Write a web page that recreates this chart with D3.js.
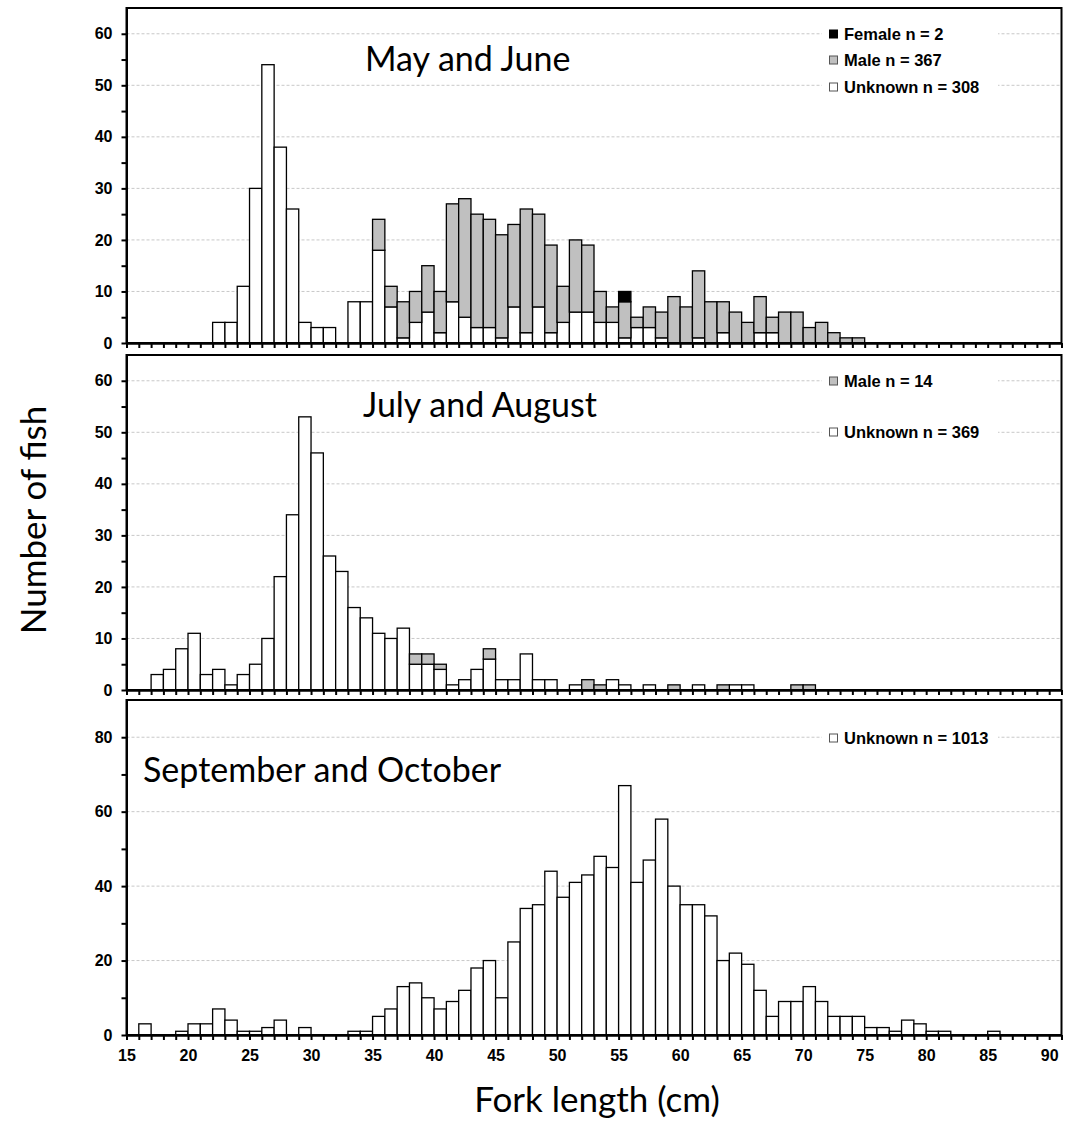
<!DOCTYPE html>
<html>
<head>
<meta charset="utf-8">
<script src="https://cdnjs.cloudflare.com/ajax/libs/d3/7.8.5/d3.min.js"></script>
<style>
body{margin:0;background:#fff;}
.tick text{font-family:"Liberation Sans",Arial,sans-serif;font-weight:bold;font-size:16px;fill:#000;}
.title{font-family:Lato,"Open Sans",sans-serif;font-size:34px;fill:#000;}
.legend text{font-family:"Liberation Sans",Arial,sans-serif;font-weight:bold;font-size:16.5px;fill:#000;}
.axis-title{font-family:Lato,"Open Sans",sans-serif;font-size:35px;fill:#000;}
</style>
</head>
<body>
<svg width="1071" height="1130"></svg>
<script>
// fork length classes, 1 cm each, 15 .. 90
var lengths = d3.range(15, 91);

// May and June
var mayJuneUnknown = [
  0,0,0,0,0,0,0,4,4,11,        // 15-24
  30,54,38,26,4,3,3,0,8,8,     // 25-34
  18,7,1,4,6,2,8,5,3,3,        // 35-44
  1,7,2,7,2,4,6,6,4,4,         // 45-54
  1,3,3,1,0,0,1,0,2,0,         // 55-64
  0,2,2,0,0,0,0,0,0,0,         // 65-74
  0,0,0,0,0,0,0,0,0,0,         // 75-84
  0,0,0,0,0,0                  // 85-90
];
var mayJuneMale = [
  0,0,0,0,0,0,0,0,0,0,
  0,0,0,0,0,0,0,0,0,0,
  6,4,7,6,9,8,19,23,22,21,
  20,16,24,18,17,7,14,13,6,3,
  7,2,4,5,9,7,13,8,6,6,
  4,7,3,6,6,3,4,2,1,1,
  0,0,0,0,0,0,0,0,0,0,
  0,0,0,0,0,0
];
var mayJuneFemale = [
  0,0,0,0,0,0,0,0,0,0,
  0,0,0,0,0,0,0,0,0,0,
  0,0,0,0,0,0,0,0,0,0,
  0,0,0,0,0,0,0,0,0,0,
  2,0,0,0,0,0,0,0,0,0,
  0,0,0,0,0,0,0,0,0,0,
  0,0,0,0,0,0,0,0,0,0,
  0,0,0,0,0,0
];

// July and August
var julAugUnknown = [
  0,0,3,4,8,11,3,4,1,3,
  5,10,22,34,53,46,26,23,16,14,
  11,10,12,5,5,4,1,2,4,6,
  2,2,7,2,2,0,1,0,0,2,
  1,0,1,0,0,0,1,0,0,1,
  1,0,0,0,0,0,0,0,0,0,
  0,0,0,0,0,0,0,0,0,0,
  0,0,0,0,0,0
];
var julAugMale = [
  0,0,0,0,0,0,0,0,0,0,
  0,0,0,0,0,0,0,0,0,0,
  0,0,0,2,2,1,0,0,0,2,
  0,0,0,0,0,0,0,2,1,0,
  0,0,0,0,1,0,0,0,1,0,
  0,0,0,0,1,1,0,0,0,0,
  0,0,0,0,0,0,0,0,0,0,
  0,0,0,0,0,0
];

// September and October
var sepOctUnknown = [
  0,3,0,0,1,3,3,7,4,1,
  1,2,4,0,2,0,0,0,1,1,
  5,7,13,14,10,7,9,12,18,20,
  10,25,34,35,44,37,41,43,48,45,
  67,41,47,58,40,35,35,32,20,22,
  19,12,5,9,9,13,9,5,5,5,
  2,2,1,4,3,1,1,0,0,0,
  1,0,0,0,0,0
];

var xTickLabels = [15,20,25,30,35,40,45,50,55,60,65,70,75,80,85,90];

var fills = {Unknown:"#ffffff", Male:"#c0c0c0", Female:"#000000"};

var panels = [
  {title:"May and June", top:8, bottom:343, yMax:65, major:10, minor:5,
   tx:365, ty:71,
   series:[["Unknown",mayJuneUnknown],["Male",mayJuneMale],["Female",mayJuneFemale]],
   legend:[["Female","Female n = 2"],["Male","Male n = 367"],["Unknown","Unknown n = 308"]],
   ly:[34,60,87]},
  {title:"July and August", top:355, bottom:690, yMax:65, major:10, minor:5,
   tx:363, ty:417,
   series:[["Unknown",julAugUnknown],["Male",julAugMale]],
   legend:[["Male","Male n = 14"],["Unknown","Unknown n = 369"]],
   ly:[381,432]},
  {title:"September and October", top:700, bottom:1035, yMax:90, major:20, minor:10,
   tx:143, ty:782,
   series:[["Unknown",sepOctUnknown]],
   legend:[["Unknown","Unknown n = 1013"]],
   ly:[738]}
];

var svg = d3.select("svg");

var x = d3.scaleLinear()
          .domain([15, 91])
          .range([126.5, 1061.5]);

panels.forEach(function(p, pi){
  var y = d3.scaleLinear()
            .domain([0, p.yMax])
            .range([p.bottom, p.top]);

  var g = svg.append("g").attr("class","panel");

  // dashed gridlines at labelled ticks
  g.selectAll(".grid")
    .data(d3.range(p.major, p.yMax, p.major))
    .enter().append("line")
      .attr("x1", x(15)).attr("x2", x(91))
      .attr("y1", d => y(d)).attr("y2", d => y(d))
      .attr("stroke","#c8c8c8")
      .attr("stroke-width",1)
      .attr("stroke-dasharray","3,2");

  // stack the series, unknown at the bottom
  var keys = p.series.map(s => s[0]);
  var rows = lengths.map(function(len, i){
    var r = {len: len};
    p.series.forEach(s => r[s[0]] = s[1][i]);
    return r;
  });
  var stacked = d3.stack().keys(keys)(rows);

  stacked.forEach(function(layer){
    g.selectAll(".bar-" + layer.key)
      .data(layer.filter(d => d[1] - d[0] > 0))
      .enter().append("rect")
        .attr("x", d => x(d.data.len))
        .attr("width", x(16) - x(15))
        .attr("y", d => y(d[1]))
        .attr("height", d => y(d[0]) - y(d[1]))
        .attr("fill", fills[layer.key])
        .attr("stroke","#000")
        .attr("stroke-width",1.3);
  });

  // frame
  g.append("rect")
    .attr("x", x(15)).attr("y", p.top)
    .attr("width", x(91) - x(15)).attr("height", p.bottom - p.top)
    .attr("fill","none")
    .attr("stroke","#000")
    .attr("stroke-width",2);

  // y axis
  var yAxis = d3.axisLeft(y)
                .tickValues(d3.range(0, p.yMax, p.minor))
                .tickSize(5)
                .tickSizeOuter(0)
                .tickPadding(9)
                .tickFormat(d => d % p.major === 0 ? d : "");
  g.append("g")
    .attr("transform","translate(" + x(15) + ",0)")
    .call(yAxis)
    .call(a => a.select(".domain").attr("stroke-width",2))
    .call(a => a.selectAll(".tick line").attr("stroke-width",2));

  // x axis, labels only on the last panel
  var xAxis = d3.axisBottom(x)
                .tickValues(d3.range(15, 92))
                .tickSize(5)
                .tickSizeOuter(0)
                .tickPadding(10)
                .tickFormat(d => (pi === 2 && xTickLabels.indexOf(d) !== -1) ? d : "");
  g.append("g")
    .attr("transform","translate(0," + p.bottom + ")")
    .call(xAxis)
    .call(a => a.select(".domain").attr("stroke-width",2.5))
    .call(a => a.selectAll(".tick line").attr("stroke-width",2));

  // panel title
  g.append("text")
    .attr("class","title")
    .attr("x", p.tx).attr("y", p.ty)
    .text(p.title);

  // legend
  var lg = g.append("g").attr("class","legend");
  lg.append("rect")
    .attr("x", 822).attr("y", p.ly[0] - 10)
    .attr("width", 176).attr("height", p.ly[p.ly.length-1] - p.ly[0] + 20)
    .attr("fill","#fff");
  p.legend.forEach(function(l, i){
    lg.append("rect")
      .attr("x", 829.5).attr("y", p.ly[i] - 4)
      .attr("width", 8).attr("height", 8)
      .attr("fill", fills[l[0]])
      .attr("stroke", l[0] === "Female" ? "#000" : "#555")
      .attr("stroke-width",1);
    lg.append("text")
      .attr("x", 844).attr("y", p.ly[i] + 6)
      .text(l[1]);
  });
});

// axis titles
svg.append("text")
  .attr("class","axis-title")
  .attr("transform","translate(46,520) rotate(-90)")
  .attr("text-anchor","middle")
  .text("Number of fish");

svg.append("text")
  .attr("class","axis-title")
  .attr("x", 597).attr("y", 1112)
  .attr("text-anchor","middle")
  .text("Fork length (cm)");
</script>
</body>
</html>
